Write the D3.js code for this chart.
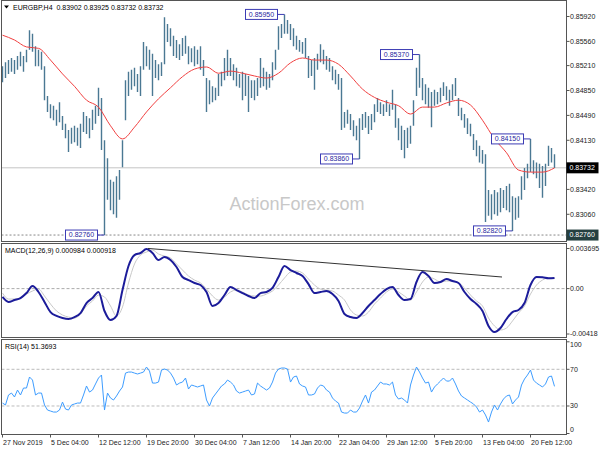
<!DOCTYPE html>
<html><head><meta charset="utf-8">
<script src="https://cdn.jsdelivr.net/npm/d3@7"></script>
<style>body{margin:0;background:#fff}svg{display:block}text{font-family:"Liberation Sans",Arial,sans-serif}</style>
</head><body><svg id="c" width="600" height="450"></svg>
<script>
// ---- data ----
const title = "EURGBP,H4  0.83902 0.83925 0.83732 0.83732";
const highs = [
0.8520,0.8526,0.8529,0.8532,0.8529,0.8535,0.8541,0.8535,0.8544,0.8572,
0.8567,0.8549,0.8544,0.8541,0.8520,0.8477,0.8465,0.8463,0.8457,0.8468,
0.8448,0.8437,0.8428,0.8431,0.8434,0.8431,0.8437,0.8454,0.8448,0.8445,
0.8457,0.8463,0.8489,0.8474,0.8413,0.8387,0.8356,0.8353,0.8361,0.8370,
0.8413,0.8500,0.8512,0.8515,0.8518,0.8509,0.8520,0.8555,0.8549,0.8544,
0.8538,0.8529,0.8523,0.8526,0.8591,0.8581,0.8575,0.8564,0.8558,0.8552,
0.8561,0.8564,0.8549,0.8546,0.8549,0.8544,0.8549,0.8529,0.8503,0.8500,
0.8491,0.8489,0.8509,0.8512,0.8532,0.8544,0.8532,0.8523,0.8518,0.8509,
0.8512,0.8509,0.8506,0.8500,0.8500,0.8503,0.8532,0.8518,0.8512,0.8509,
0.8526,0.8544,0.8578,0.8581,0.8595,0.8587,0.8581,0.8575,0.8564,0.8558,
0.8555,0.8561,0.8535,0.8529,0.8532,0.8538,0.8552,0.8544,0.8535,0.8532,
0.8520,0.8515,0.8509,0.8503,0.8454,0.8457,0.8451,0.8442,0.8434,0.8445,
0.8451,0.8454,0.8448,0.8451,0.8465,0.8474,0.8468,0.8465,0.8471,0.8465,
0.8486,0.8465,0.8445,0.8434,0.8428,0.8431,0.8434,0.8471,0.8518,0.8537,
0.8503,0.8494,0.8489,0.8483,0.8486,0.8483,0.8489,0.8497,0.8491,0.8486,
0.8494,0.8503,0.8474,0.8460,0.8451,0.8445,0.8437,0.8422,0.8413,0.8405,
0.8399,0.8393,0.8341,0.8335,0.8341,0.8338,0.8344,0.8341,0.8347,0.8350,
0.8332,0.8330,0.8332,0.8361,0.8373,0.8379,0.8415,0.8384,0.8381,0.8379,
0.8376,0.8379,0.8405,0.8402,0.8393];
const lows = [
0.8497,0.8503,0.8509,0.8512,0.8509,0.8515,0.8520,0.8512,0.8526,0.8544,
0.8541,0.8520,0.8520,0.8515,0.8471,0.8454,0.8445,0.8442,0.8434,0.8439,
0.8428,0.8416,0.8396,0.8408,0.8410,0.8405,0.8402,0.8425,0.8422,0.8416,
0.8428,0.8437,0.8448,0.8399,0.8276,0.8327,0.8312,0.8306,0.8301,0.8327,
0.8374,0.8442,0.8477,0.8486,0.8491,0.8483,0.8477,0.8515,0.8520,0.8515,
0.8477,0.8503,0.8500,0.8506,0.8523,0.8555,0.8549,0.8535,0.8532,0.8529,
0.8535,0.8538,0.8523,0.8526,0.8520,0.8523,0.8515,0.8506,0.8454,0.8465,
0.8468,0.8471,0.8477,0.8491,0.8500,0.8506,0.8506,0.8500,0.8491,0.8489,
0.8471,0.8477,0.8454,0.8474,0.8471,0.8477,0.8489,0.8491,0.8486,0.8489,
0.8500,0.8515,0.8544,0.8561,0.8567,0.8567,0.8558,0.8549,0.8544,0.8541,
0.8538,0.8532,0.8503,0.8506,0.8486,0.8515,0.8526,0.8523,0.8515,0.8512,
0.8500,0.8494,0.8486,0.8428,0.8431,0.8437,0.8428,0.8419,0.8413,0.8386,
0.8428,0.8431,0.8422,0.8428,0.8439,0.8454,0.8451,0.8448,0.8454,0.8448,
0.8457,0.8431,0.8413,0.8399,0.8387,0.8402,0.8408,0.8434,0.8477,0.8489,
0.8471,0.8465,0.8460,0.8432,0.8463,0.8465,0.8468,0.8477,0.8471,0.8463,
0.8471,0.8477,0.8448,0.8442,0.8431,0.8422,0.8419,0.8399,0.8390,0.8381,
0.8379,0.8295,0.8304,0.8298,0.8306,0.8304,0.8309,0.8315,0.8312,0.8309,
0.8282,0.8298,0.8301,0.8327,0.8341,0.8358,0.8367,0.8364,0.8358,0.8344,
0.8330,0.8347,0.8376,0.8381,0.8373];
const maValues = [
0.8565,0.8558,0.8548,0.8546,0.8529,0.8509,0.8491,0.8471,0.8461,0.8434,
0.8415,0.8432,0.8454,0.8473,0.8489,0.8505,0.8516,0.8519,0.8510,0.8513,
0.8510,0.8506,0.8503,0.8510,0.8525,0.8532,0.8529,0.8529,0.8523,0.8506,
0.8487,0.8475,0.8468,0.8463,0.8451,0.8461,0.8461,0.8467,0.8471,0.8464,
0.8442,0.8415,0.8395,0.8370,0.8367,0.8367,0.8373];
const macdValues = [
-0.00077,-0.00123,-0.00105,-0.00087,-0.00041,0.00024,-0.00031,-0.00123,-0.00216,-0.00252,
-0.00271,-0.00280,-0.00262,-0.00225,-0.00133,-0.00087,-0.00031,-0.00206,-0.00289,-0.00252,
-0.00013,0.00208,0.00309,0.00328,0.00365,0.00328,0.00263,0.00291,0.00263,0.00199,
0.00107,0.00079,0.00052,0.00033,-0.00031,-0.00160,-0.00133,-0.00059,0.00015,-0.00013,
-0.00041,-0.00068,-0.00087,-0.00041,-0.00031,0.00006,0.00107,0.00208,0.00171,0.00144,
0.00116,0.00042,-0.00041,-0.00031,-0.00022,-0.00050,-0.00114,-0.00234,-0.00262,-0.00271,
-0.00225,-0.00160,-0.00105,-0.00050,-0.00004,0.00015,-0.00059,-0.00105,-0.00096,0.00061,
0.00153,0.00116,0.00052,0.00061,0.00088,0.00070,0.00052,-0.00031,-0.00096,-0.00142,
-0.00206,-0.00344,-0.00400,-0.00363,-0.00280,-0.00216,-0.00197,-0.00133,0.00033,0.00107,
0.00105,0.00096,0.00098];
const signalValues = [
-0.00041,-0.00096,-0.00096,-0.00087,-0.00050,-0.00022,-0.00004,-0.00068,-0.00142,-0.00206,
-0.00243,-0.00262,-0.00271,-0.00234,-0.00160,-0.00114,-0.00059,-0.00077,-0.00160,-0.00252,
-0.00169,0.00052,0.00227,0.00309,0.00337,0.00355,0.00319,0.00300,0.00282,0.00227,
0.00171,0.00116,0.00079,0.00052,-0.00004,-0.00068,-0.00105,-0.00077,-0.00031,-0.00013,
-0.00031,-0.00059,-0.00068,-0.00068,-0.00050,-0.00022,0.00033,0.00098,0.00153,0.00162,
0.00144,0.00088,0.00033,-0.00004,-0.00013,-0.00022,-0.00059,-0.00105,-0.00197,-0.00243,
-0.00252,-0.00216,-0.00142,-0.00087,-0.00031,-0.00004,-0.00031,-0.00068,-0.00105,-0.00031,
0.00061,0.00107,0.00088,0.00061,0.00070,0.00070,0.00052,0.00006,-0.00059,-0.00114,
-0.00160,-0.00271,-0.00344,-0.00381,-0.00363,-0.00298,-0.00225,-0.00160,-0.00050,0.00033,
0.00079,0.00098,0.00092];
const rsiValues = [
33.2,31.1,42.0,44.1,39.8,47.4,42.0,49.6,49.6,61.6,
58.3,42.0,44.1,44.1,31.1,25.6,24.5,23.4,23.4,25.6,
34.3,26.7,25.6,31.1,32.2,33.2,33.2,42.0,51.8,45.2,
47.4,54.0,60.5,63.8,25.6,44.1,38.7,36.5,40.9,46.3,
50.7,65.9,67.0,67.0,65.9,64.9,65.9,67.0,72.5,68.1,
55.0,55.0,56.1,69.2,70.3,69.2,65.9,60.5,52.9,55.0,
56.1,60.5,48.5,52.9,51.8,50.7,51.8,52.9,36.5,30.0,
38.7,43.1,47.4,51.8,54.0,58.3,56.1,52.9,46.3,44.1,
45.2,46.3,47.4,42.0,43.1,55.0,51.8,49.6,47.4,49.6,
56.1,65.9,70.3,71.4,71.4,70.3,56.1,61.6,62.7,54.0,
51.8,50.7,42.0,42.0,43.1,49.6,52.9,51.8,47.4,45.2,
38.7,35.4,33.2,23.4,22.3,22.3,25.6,23.4,23.4,27.8,
35.4,42.0,33.2,45.2,47.4,51.8,56.1,54.0,54.0,52.9,
56.1,42.0,37.6,38.7,36.5,33.2,52.9,63.8,72.5,67.0,
60.5,55.0,56.1,45.2,50.7,54.0,57.2,60.5,57.2,57.2,
60.5,54.0,46.3,40.9,38.7,36.5,34.3,32.2,28.9,23.4,
25.6,20.2,12.5,23.4,31.1,25.6,32.2,37.6,40.9,42.0,
32.2,36.5,39.8,52.9,59.4,63.8,69.2,58.3,55.0,52.9,
50.7,54.0,61.6,62.7,51.4];
// price ticks; the ones marked false are hidden under the price boxes
const priceTicks = [0.8592,0.8556,0.8521,0.8485,0.8449,0.8413,0.8378,0.8342,0.8306,0.8271];
const priceTickShown = [true,true,true,true,true,true,false,true,true,false];
const macdTicks = [0.003695,0,-0.00418];
const macdTickLabels = ["0.003695","0.00","-0.00418"];
const rsiTicks = [100,70,30,0];
const rsiLevels = [70,30];
const dateLabels = ["27 Nov 2019","5 Dec 04:00","12 Dec 12:00","19 Dec 20:00","30 Dec 04:00","7 Jan 12:00","14 Jan 20:00","22 Jan 04:00","29 Jan 12:00","5 Feb 20:00","13 Feb 04:00","20 Feb 12:00"];
const dateBarIndex = [0,16,32,48,64,80,96,112,128,144,160,176];
const peakValues = [0.8595,0.8537,0.8386,0.8276,0.8415,0.8282];
const peakBarIndex = [94,139,119,34,176,170];
const lastPrice = 0.83732;
const lowLevel = 0.8276;
const trendBarIndex = [48.5,166.5];
const trendValues = [0.0037,0.00107];
const macdLabel = "MACD(12,26,9) 0.000984 0.000918";
const rsiLabel = "RSI(14) 51.3693";

// ---- layout ----
const svg = d3.select('#c');
const L = 1.5, R = 566.5;
const main = {t:0.5, b:241.5}, pM = {t:243.5, b:337.5}, pR = {t:339.5, b:434.5};
const x = d3.scaleLinear().domain([0, highs.length-1]).range([2.5, 554.5]);
const yP = d3.scaleLinear().domain([0.8271,0.8592]).range([238.5,16.5]);
const yM = d3.scaleLinear().domain([-0.00418,0.003695]).range([334,248.5]);
const yR = d3.scaleLinear().domain([0,100]).range([433.5,341.8]);
const nb = highs.length-1;
const idx = (arr,i) => i*nb/(arr.length-1);

const defs = svg.append('defs');
[['cm',main],['cmacd',pM],['crsi',pR]].forEach(([id,p])=>{
  defs.append('clipPath').attr('id',id).append('rect').attr('x',L).attr('y',p.t).attr('width',R-L).attr('height',p.b-p.t);
});

const fs = 7;
// watermark
svg.append('text').attr('x',297).attr('y',210).attr('text-anchor','middle')
  .attr('font-size',18).attr('fill','#c8c8c8').text('ActionForex.com');

// main panel
const gm = svg.append('g').attr('clip-path','url(#cm)');
gm.append('line').attr('x1',L).attr('x2',R).attr('y1',yP(lastPrice)).attr('y2',yP(lastPrice))
  .attr('stroke','#c4c4c4').attr('stroke-width',1);
gm.append('line').attr('x1',L).attr('x2',R).attr('y1',yP(lowLevel)).attr('y2',yP(lowLevel))
  .attr('stroke','#888').attr('stroke-width',1).attr('stroke-dasharray','2,2');
gm.selectAll('line.bar').data(highs).enter().append('line').attr('class','bar')
  .attr('x1',(d,i)=>x(i)).attr('x2',(d,i)=>x(i))
  .attr('y1',d=>yP(d)).attr('y2',(d,i)=>yP(lows[i]))
  .attr('stroke','#4a7893').attr('stroke-width',1.4);
gm.append('path').datum(maValues)
  .attr('d',d3.line().x((d,i)=>x(idx(maValues,i))).y(d=>yP(d)).curve(d3.curveMonotoneX))
  .attr('fill','none').attr('stroke','#f04040').attr('stroke-width',1);

// peak labels
peakValues.forEach((v,k)=>{
  const px = x(peakBarIndex[k]), py = yP(v);
  const bw = 32, bh = 10, bx = px-7-bw;
  svg.append('line').attr('x1',bx+bw).attr('x2',px).attr('y1',py).attr('y2',py).attr('stroke','#3c3cb4');
  svg.append('rect').attr('x',bx).attr('y',py-bh/2).attr('width',bw).attr('height',bh)
    .attr('fill','#fff').attr('stroke','#3c3cb4').attr('stroke-width',1);
  svg.append('text').attr('x',bx+bw/2).attr('y',py).attr('dy','0.35em').attr('text-anchor','middle')
    .attr('font-size',fs).attr('fill','#2828a0').text(v.toFixed(5));
});

// title
svg.append('path').attr('d','M4,5.5 L9,5.5 L6.5,8.5 Z').attr('fill','#000');
svg.append('text').attr('x',13).attr('y',8).attr('dy','0.35em').attr('font-size',fs).attr('fill','#000')
  .attr('xml:space','preserve').text(title);

// MACD panel
const gmacd = svg.append('g').attr('clip-path','url(#cmacd)');
gmacd.append('line').attr('x1',L).attr('x2',R).attr('y1',yM(0)).attr('y2',yM(0))
  .attr('stroke','#aaa').attr('stroke-dasharray','3,2');
gmacd.append('path').datum(signalValues)
  .attr('d',d3.line().x((d,i)=>x(idx(signalValues,i))).y(d=>yM(d)).curve(d3.curveMonotoneX))
  .attr('fill','none').attr('stroke','#c8c8c8').attr('stroke-width',1);
gmacd.append('path').datum(macdValues)
  .attr('d',d3.line().x((d,i)=>x(idx(macdValues,i))).y(d=>yM(d)).curve(d3.curveMonotoneX))
  .attr('fill','none').attr('stroke','#1c1c9a').attr('stroke-width',2);
gmacd.append('line').attr('x1',x(trendBarIndex[0])).attr('x2',x(trendBarIndex[1]))
  .attr('y1',yM(trendValues[0])).attr('y2',yM(trendValues[1])).attr('stroke','#333').attr('stroke-width',1);
svg.append('text').attr('x',5).attr('y',250.5).attr('dy','0.35em').attr('font-size',fs).attr('fill','#000').text(macdLabel);

// RSI panel
const grsi = svg.append('g').attr('clip-path','url(#crsi)');
rsiLevels.forEach(v=>{
  grsi.append('line').attr('x1',L).attr('x2',R).attr('y1',yR(v)).attr('y2',yR(v))
    .attr('stroke','#bbb').attr('stroke-dasharray','3,2');
});
grsi.append('path').datum(rsiValues)
  .attr('d',d3.line().x((d,i)=>x(idx(rsiValues,i))).y(d=>yR(d)))
  .attr('fill','none').attr('stroke','#3d9cff').attr('stroke-width',1);
svg.append('text').attr('x',5).attr('y',346.5).attr('dy','0.35em').attr('font-size',fs).attr('fill','#000').text(rsiLabel);

// frames
[main,pM,pR].forEach(p=>{
  svg.append('rect').attr('x',L).attr('y',p.t).attr('width',R-L).attr('height',p.b-p.t)
    .attr('fill','none').attr('stroke','#555').attr('stroke-width',1);
});

// right axes
function axisLabels(vals, texts, scale, lo, hi, shown){
  vals.forEach((v,k)=>{
    const yy = Math.max(lo, Math.min(hi, scale(v)));
    svg.append('line').attr('x1',R).attr('x2',R+3).attr('y1',scale(v)).attr('y2',scale(v)).attr('stroke','#555');
    if (shown && !shown[k]) return;
    svg.append('text').attr('x',570).attr('y',yy).attr('dy','0.35em').attr('font-size',fs).attr('fill','#222').text(texts[k]);
  });
}
axisLabels(priceTicks, priceTicks.map(v=>v.toFixed(5)), yP, 4, 240, priceTickShown);
axisLabels(macdTicks, macdTickLabels, yM, 248, 334);
axisLabels(rsiTicks, rsiTicks.map(String), yR, 345, 429.5);

// price boxes
function priceBox(v, fill){
  const yy = yP(v);
  svg.append('rect').attr('x',R).attr('y',yy-5.5).attr('width',32).attr('height',11).attr('fill',fill);
  svg.append('text').attr('x',569.5).attr('y',yy).attr('dy','0.35em').attr('font-size',fs).attr('fill','#fff').text(v.toFixed(5));
}
priceBox(lastPrice,'#000');
priceBox(lowLevel,'#254040');

// x axis
dateBarIndex.forEach((b,k)=>{
  const xx = x(b);
  svg.append('line').attr('x1',xx).attr('x2',xx).attr('y1',pR.b).attr('y2',pR.b+3).attr('stroke','#555');
  svg.append('text').attr('x',xx+0.5).attr('y',442.5).attr('dy','0.35em').attr('font-size',fs).attr('fill','#222').text(dateLabels[k]);
});
</script></body></html>
